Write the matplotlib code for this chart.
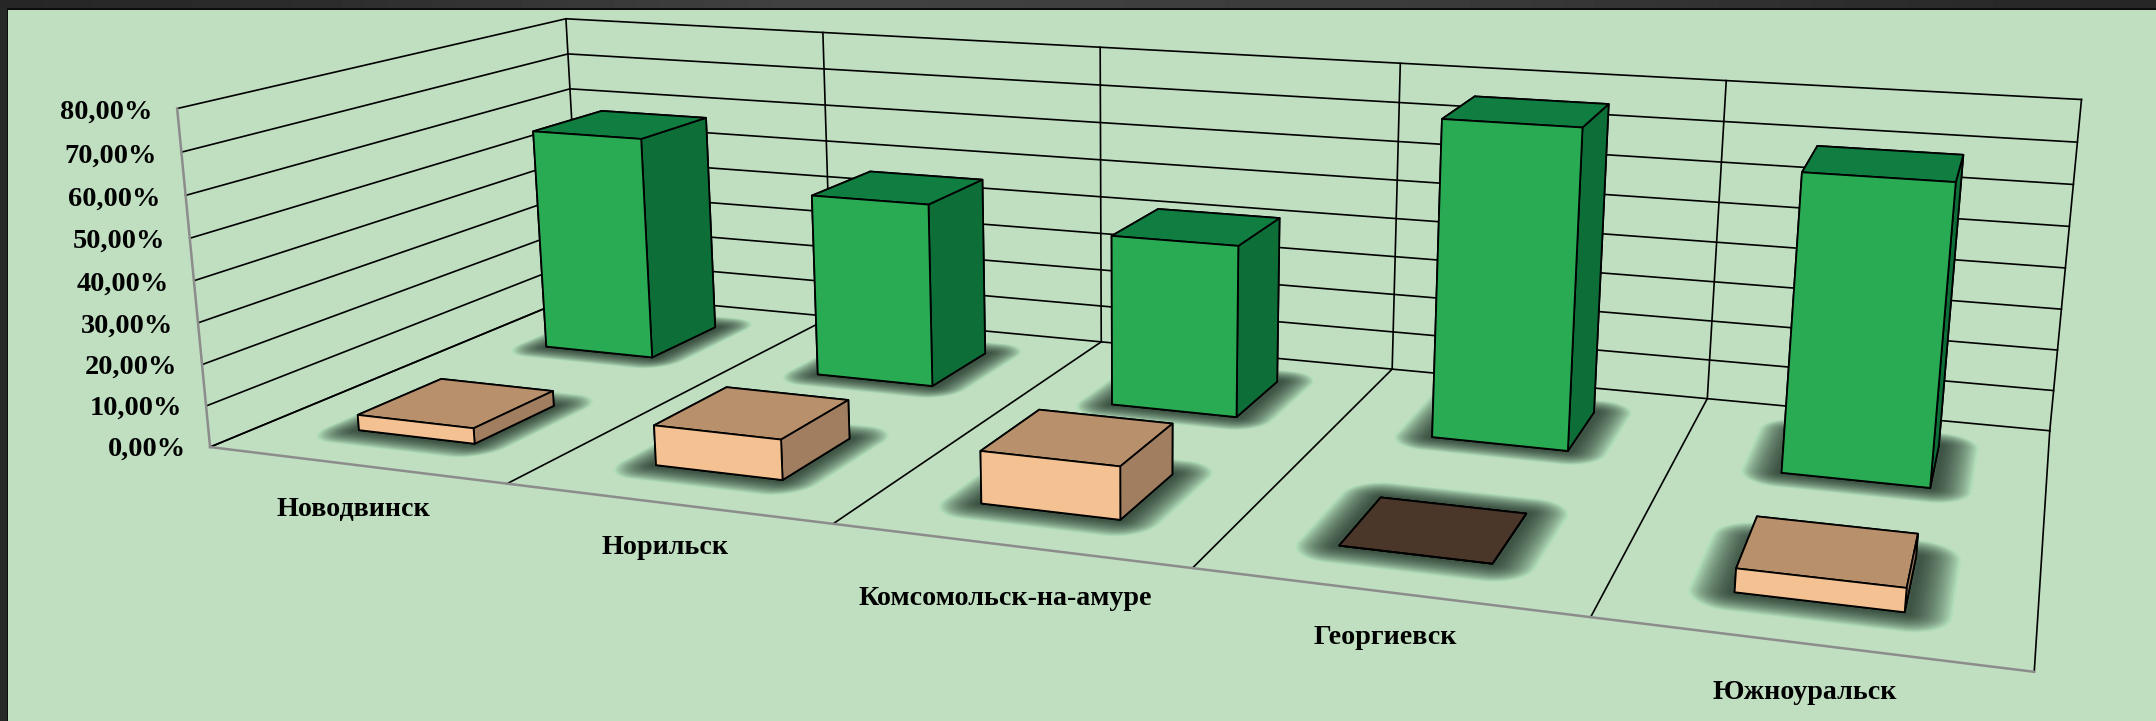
import numpy as np
import matplotlib
matplotlib.use("Agg")
import matplotlib.pyplot as plt
from matplotlib.patches import Rectangle
from mpl_toolkits.mplot3d.art3d import Poly3DCollection

W, H_PX = 2156, 721

# data
cities = ['Новодвинск', 'Норильск', 'Комсомольск-на-амуре', 'Георгиевск', 'Южноуральск']
back_values = [58.5, 47.0, 42.7, 76.3, 69.3]
front_values = [3.8, 9.5, 12.0, 0.0, 5.0]
z_ticks = [0, 10, 20, 30, 40, 50, 60, 70, 80]
z_labels = ['0,00%', '10,00%', '20,00%', '30,00%', '40,00%', '50,00%', '60,00%', '70,00%', '80,00%']

# frame corners as seen in the reference (x, depth, z) -> image pixel, for the camera
frame_3d = [(0, 0, 0), (0, 0, 80), (0, 1, 80), (0, 1, 0), (2, 1, 80), (3, 1, 80), (5, 1, 80),
            (2, 1, 0), (3, 1, 0), (4, 1, 0), (5, 1, 0),
            (1, 0, 0), (2, 0, 0), (3, 0, 0), (4, 0, 0), (5, 0, 0)]
frame_px = [(210, 446.7), (177, 108.7), (566.3, 18.3), (581, 293), (1100, 48), (1400, 63.3), (2081.7, 99),
            (1102, 341.7), (1392, 369), (1708, 400), (2049, 430),
            (508, 484), (833, 524), (1191, 568), (1591, 617), (2034.7, 671.7)]

BG = '#bfdfc0'
GRN = ['#0f7e40', '#0f7e40', '#29ab54', '#0e6e38', '#0e6e38', '#0e6e38']   # -z +z -y +y -x +x
TAN = ['#b9906c', '#b9906c', '#f4c192', '#a17e60', '#a17e60', '#a17e60']
ZERO = ['#4b3729'] * 6
BAR_W = 0.40
FRONT_ROW = (0.145, 0.355)
BACK_ROW = (0.655, 0.865)
LABEL_DROP = [-10.9, -10.2, -11.9, -9.6, -9.8]
LABEL_X = [0.48, 0.49, 0.49, 0.50, 0.505]


def fit_camera():
    # plain DLT, scaled a bit so the SVD behaves
    rows = []
    for (x, y, z), (u, v) in zip(frame_3d, frame_px):
        X = [x, y, z / 100.0, 1.0]
        u, v = u / 1000.0, v / 1000.0
        rows.append(X + [0, 0, 0, 0] + [-u * c for c in X])
        rows.append([0, 0, 0, 0] + X + [-v * c for c in X])
    P = np.linalg.svd(np.array(rows))[2][-1].reshape(3, 4)
    P = np.diag([1000.0, 1000.0, 1.0]) @ P @ np.diag([1, 1, 0.01, 1])
    return P / P[2, 3]


CAM = fit_camera()


def to_fig(x, y, z):
    # figure fraction of a chart point, for the text labels
    u, v, w = CAM @ np.array([x, y, z, 1.0])
    return u / w / W, 1 - v / w / H_PX


fig = plt.figure(figsize=(W / 100, H_PX / 100), dpi=100, facecolor='#262727')

# dark window frame at top and left
strip = np.interp(np.arange(W), [0, 300, 800, 1400, 1900, W], [38, 44, 66, 60, 44, 38])
fig.figimage(np.tile(strip, (8, 1)), xo=0, yo=H_PX - 8, cmap='gray', vmin=0, vmax=255, zorder=-3)
fig.add_artist(Rectangle((7 / W, 0), 1 - 7 / W, (H_PX - 8) / H_PX, transform=fig.transFigure,
                         facecolor='#0c0c0c', edgecolor='none', zorder=-2))
fig.add_artist(Rectangle((8 / W, 0), 1 - 8 / W, (H_PX - 10) / H_PX, transform=fig.transFigure,
                         facecolor=BG, edgecolor='none', zorder=-1))

ax = fig.add_axes([0, 0, 1, 1], projection='3d', computed_zorder=False)
ax.set_axis_off()
ax.patch.set_visible(False)
ax.apply_aspect = lambda position=None: None  # keep the whole figure, not a square


def camera_proj():
    # camera gives image pixels, the axes wants its own 2d coords
    p = ax.transData.inverted().transform([[0, H_PX], [1, H_PX], [0, H_PX - 1]])
    A = np.array([[p[1, 0] - p[0, 0], p[2, 0] - p[0, 0], p[0, 0]],
                  [p[1, 1] - p[0, 1], p[2, 1] - p[0, 1], p[0, 1]],
                  [0, 0, 1]])
    R = A @ CAM
    return np.array([R[0], R[1], [0, 0, 0, -1.0], R[2]])


ax.get_proj = camera_proj


def shadow(x0, x1, y0, y1):
    # soft floor shadow: stacked see-through rounded shapes
    t = np.linspace(0, 2 * np.pi, 60)
    for i, m in enumerate(np.linspace(0.095, 0.0, 18)):
        rx, ry = m + 0.015, (m + 0.015) * 0.62
        cx = np.where(np.cos(t) > 0, x1, x0)
        cy = np.where(np.sin(t) > 0, y1, y0)
        xs = cx + rx * np.cos(t)
        ys = cy + ry * np.sin(t)
        col = (0.65, 0.87, 0.71, 0.5) if i == 0 else (0.09, 0.14, 0.11, 0.072)
        ax.add_collection3d(Poly3DCollection([list(zip(xs, ys, np.zeros_like(xs)))],
                                             facecolor=col, edgecolor='none', zorder=2))


# walls and floor
for z in z_ticks:
    ax.plot([0, 0, 5], [0, 1, 1], [z, z, z], color='black', lw=1.2, zorder=1)
for i in range(len(cities) + 1):
    ax.plot([i, i], [1, 1], [0, 80], color='black', lw=1.2, zorder=1)
    ax.plot([i, i], [0, 1], [0, 0], color='black', lw=1.2, zorder=1)
ax.plot([0, 0], [0, 0], [0, 80], color='#8c8c8c', lw=1.8, zorder=1)
ax.plot([0, 5], [0, 0], [0, 0], color='#8c8c8c', lw=1.8, zorder=1)

# bars
for i, (b, f) in enumerate(zip(back_values, front_values)):
    x0 = i + 0.5 - BAR_W / 2
    shadow(x0, x0 + BAR_W, *BACK_ROW)
    shadow(x0, x0 + BAR_W, *FRONT_ROW)
    ax.bar3d(x0 - 0.008 + 0.002 * i, BACK_ROW[0], 0, BAR_W, BACK_ROW[1] - BACK_ROW[0], b, color=GRN,
             shade=False, edgecolor='black', linewidth=1.3, zorder=3)
    ax.bar3d(x0, FRONT_ROW[0], 0, BAR_W, FRONT_ROW[1] - FRONT_ROW[0], f, color=TAN if f > 0 else ZERO,
             shade=False, edgecolor='black', linewidth=1.3, zorder=4)

# labels
for z, lab in zip(z_ticks, z_labels):
    fx, fy = to_fig(-0.088, 0, z - 1.3)
    fig.text(fx, fy, lab, ha='right', va='center', family='Liberation Serif',
             fontweight='bold', fontsize=20.4, color='black')
for i, name in enumerate(cities):
    fx, fy = to_fig(i + LABEL_X[i], 0, LABEL_DROP[i])
    fig.text(fx, fy, name, ha='center', va='center', family='Liberation Serif',
             fontweight='bold', fontsize=20.2, color='black')

fig.savefig('out.png', dpi=100, facecolor=fig.get_facecolor())
